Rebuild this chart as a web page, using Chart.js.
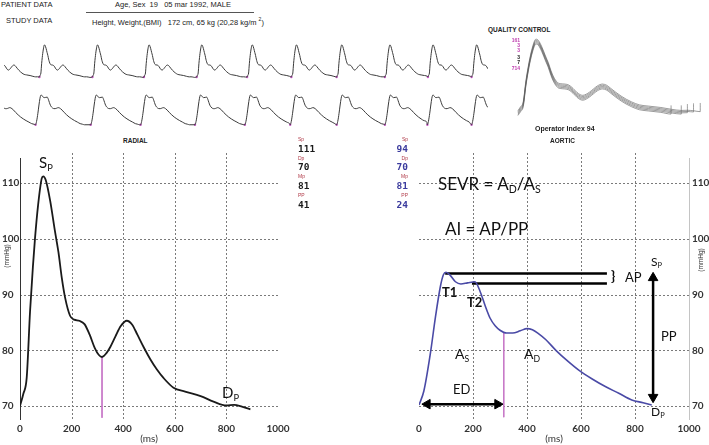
<!DOCTYPE html>
<html>
<head>
<meta charset="utf-8">
<script src="https://cdn.jsdelivr.net/npm/chart.js@4.4.1/dist/chart.umd.min.js"></script>
<style>
body { margin: 0; background: #fff; width: 709px; height: 445px; position: relative; overflow: hidden; }
canvas { position: absolute; }
.t { position: absolute; white-space: nowrap; line-height: 1; font-family: Lato, "Open Sans", sans-serif; color: #111; }
.s { font-size: 62%; position: relative; top: 0.3em; }
.h { position: absolute; white-space: nowrap; line-height: 1; font-family: "Liberation Sans", Arial, sans-serif; font-size: 7.5px; color: #222; }
.lab { position: absolute; white-space: nowrap; line-height: 1; font-family: "Liberation Sans", Arial, sans-serif; font-size: 6.5px; font-weight: bold; color: #222; }
.qc { position: absolute; width: 20px; text-align: right; font-family: "Liberation Sans", Arial, sans-serif; font-size: 5px; line-height: 1; font-weight: bold; }
.sm { position: absolute; font-family: "Liberation Sans", Arial, sans-serif; font-size: 5px; line-height: 1; color: #b03a48; }
.num { position: absolute; font-family: "DejaVu Sans Mono", monospace; font-weight: bold; font-size: 9.5px; line-height: 1; }
.rot { position: absolute; white-space: nowrap; font-family: "Liberation Sans", Arial, sans-serif; font-size: 6.5px; color: #333; transform: translate(-50%, -50%) rotate(-90deg); }
</style>
</head>
<body>
<canvas id="radialChart" width="300" height="296" style="left:0;top:149px"></canvas>
<canvas id="aorticChart" width="309" height="296" style="left:400px;top:149px"></canvas>
<canvas id="strip1" width="492" height="50" style="left:0;top:36px"></canvas>
<canvas id="strip2" width="492" height="48" style="left:0;top:86px"></canvas>
<canvas id="qcChart" width="195" height="90" style="left:512px;top:35px"></canvas>

<!-- header -->
<div class="h" style="left:1px;top:1px">PATIENT DATA</div>
<div class="h" style="left:115px;top:1px">Age, Sex&nbsp;&nbsp;19&nbsp;&nbsp;&nbsp;05 mar 1992, MALE</div>
<div style="position:absolute;left:86px;top:12px;width:168px;height:1px;background:#555"></div>
<div class="h" style="left:6px;top:17px">STUDY DATA</div>
<div class="h" style="left:92px;top:17px">Height, Weight,(BMI)&nbsp;&nbsp;&nbsp;172 cm, 65 kg (20,28 kg/m <sup style="font-size:5px">2</sup>)</div>

<div class="lab" style="left:488px;top:27px">QUALITY CONTROL</div>
<div class="qc" style="left:500px;top:38px;color:#c040b0">161</div>
<div class="qc" style="left:500px;top:43px;color:#c040b0">3</div>
<div class="qc" style="left:500px;top:48px;color:#c040b0">3</div>
<div class="qc" style="left:500px;top:55px;color:#222">3</div>
<div class="qc" style="left:500px;top:60px;color:#222">7</div>
<div class="qc" style="left:500px;top:66px;color:#c040b0">714</div>
<div class="lab" style="left:535px;top:125px;font-size:7px">Operator Index 94</div>
<div class="lab" style="left:550px;top:138px">AORTIC</div>
<div class="lab" style="left:123px;top:138px">RADIAL</div>

<!-- value columns -->
<div class="sm" style="left:298px;top:137px">Sp</div>
<div class="num" style="left:298px;top:144px;color:#1a1a1a">111</div>
<div class="sm" style="left:298px;top:156px">Dp</div>
<div class="num" style="left:298px;top:162px;color:#1a1a1a">70</div>
<div class="sm" style="left:298px;top:174px">Mp</div>
<div class="num" style="left:298px;top:181px;color:#1a1a1a">81</div>
<div class="sm" style="left:298px;top:193px">PP</div>
<div class="num" style="left:298px;top:200px;color:#1a1a1a">41</div>

<div class="sm" style="left:388px;top:137px;width:20px;text-align:right">Sp</div>
<div class="num" style="left:378px;top:144px;width:30px;text-align:right;color:#3b3b9e">94</div>
<div class="sm" style="left:388px;top:156px;width:20px;text-align:right">Dp</div>
<div class="num" style="left:378px;top:162px;width:30px;text-align:right;color:#3b3b9e">70</div>
<div class="sm" style="left:388px;top:174px;width:20px;text-align:right">Mp</div>
<div class="num" style="left:378px;top:181px;width:30px;text-align:right;color:#3b3b9e">81</div>
<div class="sm" style="left:388px;top:193px;width:20px;text-align:right">PP</div>
<div class="num" style="left:378px;top:200px;width:30px;text-align:right;color:#3b3b9e">24</div>

<!-- axis titles -->
<div class="rot" style="left:6px;top:256px">(mmHg)</div>
<div class="rot" style="left:700px;top:260px">(mmHg)</div>

<!-- annotations -->
<div class="t" style="left:39px;top:155px;font-size:15px">S<span class="s">P</span></div>
<div class="t" style="left:222px;top:385px;font-size:15px">D<span class="s">P</span></div>
<div class="t" style="left:438px;top:175px;font-size:17px">SEVR = A<span class="s">D</span>/A<span class="s">S</span></div>
<div class="t" style="left:445px;top:220px;font-size:17px">AI = AP/PP</div>
<div class="t" style="left:611px;top:269px;font-size:14px;font-weight:bold">}</div>
<div class="t" style="left:625px;top:271px;font-size:13px">AP</div>
<div class="t" style="left:651px;top:256px;font-size:12px">S<span class="s">P</span></div>
<div class="t" style="left:442px;top:286px;font-size:13px;font-weight:bold">T1</div>
<div class="t" style="left:467px;top:296px;font-size:13px;font-weight:bold">T2</div>
<div class="t" style="left:455px;top:347px;font-size:14px">A<span class="s">S</span></div>
<div class="t" style="left:524px;top:347px;font-size:14px">A<span class="s">D</span></div>
<div class="t" style="left:453px;top:383px;font-size:13px">ED</div>
<div class="t" style="left:661px;top:330px;font-size:13px">PP</div>
<div class="t" style="left:651px;top:406px;font-size:12px">D<span class="s">P</span></div>

<script>
// radial pulse (left panel): time in ms, pressure in mmHg
const radialT = [0, 13, 26, 39, 50, 58, 70, 84, 90, 100, 117, 135, 149, 162, 175, 194, 210, 230, 250, 270, 290, 305, 318, 335, 350, 370, 390, 414, 435, 455, 480, 505, 530, 557, 595, 640, 700, 750, 800, 830, 860, 893];
const radialP = [70, 72.2, 75.1, 87, 95, 100, 106, 110.8, 111.2, 110.5, 106.8, 101.5, 97.6, 93, 89.4, 86.2, 85.5, 85.3, 84.7, 82.8, 80.4, 79.2, 78.8, 79.5, 80.6, 82.5, 84.3, 85.3, 84.6, 82.8, 80.5, 78.4, 76.6, 75, 73.3, 72.6, 71.8, 70.8, 70.1, 70.2, 69.9, 69.4];

// derived aortic pulse (right panel)
const aorticT = [0, 18, 42, 61, 79, 90, 100, 115, 135, 155, 180, 207, 226, 245, 263, 282, 300, 324, 347, 375, 400, 420, 440, 470, 507, 550, 593, 640, 690, 740, 788, 830, 862];
const aorticP = [70.2, 72.7, 79.4, 86, 91.4, 93.5, 94.0, 93.5, 92.3, 91.9, 92.1, 92.3, 90.6, 88.0, 85.8, 84.4, 83.6, 83.1, 83.1, 83.5, 83.9, 83.7, 83.1, 81.9, 80, 78.1, 76.4, 74.9, 73.5, 72.3, 71.1, 70.6, 70.2];

const msTicks = [0, 200, 400, 600, 800, 1000];
const mmHgTicks = [70, 80, 90, 100, 110];

// markers: [ms, pressure at curve, pressure at bottom]
const radialNotch = [318, 78.8, 67.9];
const aorticNotch = [314, 83.1, 68.0];
const apStartT = [97, 196];
const apLevels = [93.8, 92.0];
const apEndT = 696;
const ppArrowT = 867;
const ppArrowP = [93.0, 71.6];
const edArrowT = [31, 291];
const edArrowP = 70.34;

// beat onsets in the recording strip (s)
const stripOnsetsRadial = [-0.24, 0.625, 1.56, 2.47, 3.40, 4.29, 5.07, 5.87, 6.72, 7.48, 8.25];
const stripOnsetsAortic = [-0.30, 0.556, 1.53, 2.41, 3.37, 4.25, 5.05, 5.87, 6.72, 7.47, 8.25];

// quality control overlay: pressure offset and end time of each beat
const qcShifts = [-1.4, -0.7, 0, 0.7, 1.4];
const qcEndT = [750, 800, 830, 860, 893];

Chart.defaults.font.family = 'Lato, "Open Sans", sans-serif';
Chart.defaults.animation = false;

function pts(ts, ps) {
    return ts.map((t, i) => ({x: t, y: ps[i]}));
}

function beatStrip(onsets, ts, ps) {
    const out = [];
    onsets.forEach((o, i) => {
        const next = i + 1 < onsets.length ? onsets[i + 1] : Infinity;
        ts.forEach((t, j) => {
            const x = o + t / 1000;
            if (x < next) out.push({x: x, y: ps[j]});
        });
    });
    return out;
}

function noPlugins() {
    return { legend: { display: false }, tooltip: { enabled: false } };
}

const gridGray = '#7a7a7a';

// dotted grid + axis line, placed with the chart's own scales
const dottedGrid = {
    id: 'dottedGrid',
    beforeDatasetsDraw(chart, args, opts) {
        const ctx = chart.ctx;
        const a = chart.chartArea;
        const x = chart.scales.x;
        const y = chart.scales.y;
        ctx.save();
        ctx.lineWidth = 1;
        ctx.strokeStyle = gridGray;
        ctx.setLineDash([2, 2]);
        msTicks.filter(v => v > x.min && v < x.max).forEach(v => {
            const px = Math.round(x.getPixelForValue(v)) + 0.5;
            ctx.beginPath();
            ctx.moveTo(px, a.top - 5);
            ctx.lineTo(px, a.bottom);
            ctx.stroke();
        });
        mmHgTicks.forEach(v => {
            const py = Math.round(y.getPixelForValue(v)) + 0.5;
            ctx.beginPath();
            ctx.moveTo(Math.round(a.left), py);
            ctx.lineTo(Math.round(a.right), py);
            ctx.stroke();
        });
        ctx.setLineDash([]);
        ctx.strokeStyle = opts.axisColor;
        const bx = Math.round(opts.axisSide === 'left' ? a.left : a.right) + 0.5;
        ctx.beginPath();
        ctx.moveTo(bx, a.top);
        ctx.lineTo(bx, a.bottom);
        ctx.stroke();
        ctx.restore();
    }
};

function xAxis() {
    return {
        type: 'linear',
        min: 0,
        max: 1000,
        afterBuildTicks: s => { s.ticks = msTicks.map(v => ({value: v})); },
        afterFit: s => { s.height = 25; },
        grid: { display: false, drawTicks: false },
        border: { display: false },
        ticks: { padding: 3, color: '#333', font: { size: 10, weight: 'bold' }, maxRotation: 0, callback: v => String(v) },
        title: { display: true, text: '(ms)', padding: 0, color: '#333', font: { size: 10 } }
    };
}

function yAxis(position, width) {
    return {
        position: position,
        min: 67.5,
        max: 114.5,
        afterBuildTicks: s => { s.ticks = mmHgTicks.map(v => ({value: v})); },
        afterFit: s => { s.width = width; },
        grid: { display: false, drawTicks: false },
        border: { display: false },
        ticks: {
            padding: 3,
            color: '#333',
            font: { size: 10, weight: 'bold' },
            callback: v => String(v),
            crossAlign: position === 'left' ? 'far' : 'near'
        }
    };
}

// Radial panel
new Chart(document.getElementById('radialChart'), {
    type: 'line',
    plugins: [dottedGrid],
    data: {
        datasets: [{
            data: pts(radialT, radialP),
            borderColor: '#1a1a1a',
            borderWidth: 1.8,
            pointRadius: 0,
            cubicInterpolationMode: 'monotone'
        }, {
            data: [{x: radialNotch[0], y: radialNotch[1]}, {x: radialNotch[0], y: radialNotch[2]}],
            borderColor: '#c879c8',
            borderWidth: 1,
            pointRadius: 0
        }]
    },
    options: {
        responsive: false,
        layout: { padding: { left: 2, top: 6, right: 22, bottom: 0 } },
        plugins: Object.assign(noPlugins(), { dottedGrid: { axisColor: '#333', axisSide: 'left' } }),
        scales: { x: xAxis(), y: yAxis('left', 18) }
    }
});

// Aortic panel with SEVR / AI construction
function arrowSet(data, rotation) {
    return {
        data: data,
        borderColor: '#000',
        borderWidth: 2.5,
        pointStyle: 'triangle',
        pointRadius: 5.5,
        pointBackgroundColor: '#000',
        pointBorderColor: '#000',
        pointBorderWidth: 1,
        pointRotation: rotation
    };
}

new Chart(document.getElementById('aorticChart'), {
    type: 'line',
    plugins: [dottedGrid],
    data: {
        datasets: [{
            data: pts(aorticT, aorticP),
            borderColor: '#4a4aa6',
            borderWidth: 1.6,
            pointRadius: 0,
            cubicInterpolationMode: 'monotone'
        }, {
            data: [{x: aorticNotch[0], y: aorticNotch[1]}, {x: aorticNotch[0], y: aorticNotch[2]}],
            borderColor: '#c879c8',
            borderWidth: 1,
            pointRadius: 0
        }, ...apLevels.map((lvl, i) => ({
            data: [{x: apStartT[i], y: lvl}, {x: apEndT, y: lvl}],
            borderColor: '#000',
            borderWidth: 2.5,
            pointRadius: 0
        })),
        arrowSet(ppArrowP.map(p => ({x: ppArrowT, y: p})), c => c.dataIndex === 0 ? 0 : 180),
        arrowSet(edArrowT.map(t => ({x: t, y: edArrowP})), c => c.dataIndex === 0 ? 270 : 90)]
    },
    options: {
        responsive: false,
        layout: { padding: { left: 19, top: 6, right: 0, bottom: 0 } },
        plugins: Object.assign(noPlugins(), { dottedGrid: { axisColor: '#c4c4c4', axisSide: 'right' } }),
        scales: { x: xAxis(), y: yAxis('right', 20) }
    }
});

// Recording strips
function stripChart(id, onsets, ts, ps, yMin, yMax) {
    new Chart(document.getElementById(id), {
        type: 'line',
        data: {
            datasets: [{
                data: beatStrip(onsets, ts, ps),
                borderColor: '#3a3a3a',
                borderWidth: 1,
                pointRadius: 0,
                cubicInterpolationMode: 'monotone'
            }, {
                data: onsets.map(o => ({x: o, y: ps[0]})),
                showLine: false,
                pointRadius: 1.2,
                pointBackgroundColor: '#c85ac8',
                pointBorderWidth: 0
            }]
        },
        options: {
            responsive: false,
            layout: { padding: 0 },
            plugins: noPlugins(),
            scales: {
                x: { type: 'linear', min: 0, max: 8.54, display: false },
                y: { min: yMin, max: yMax, display: false }
            }
        }
    });
}

stripChart('strip1', stripOnsetsRadial, radialT, radialP, 63.5, 117.5);
stripChart('strip2', stripOnsetsAortic, aorticT, aorticP, 66, 98);

// Quality control overlay
new Chart(document.getElementById('qcChart'), {
    type: 'line',
    data: {
        datasets: qcShifts.map((d, k) => {
            const beat = [];
            radialT.forEach((t, j) => {
                if (t <= qcEndT[k]) beat.push({x: t, y: radialP[j] + d});
            });
            const last = beat[beat.length - 1];
            beat.push({x: last.x, y: last.y + 5});
            return {
                data: beat,
                borderColor: 'rgba(90,90,90,0.6)',
                borderWidth: 1,
                pointRadius: 0,
                cubicInterpolationMode: 'monotone'
            };
        })
    },
    options: {
        responsive: false,
        layout: { padding: 0 },
        plugins: noPlugins(),
        scales: {
            x: { type: 'linear', min: -29, max: 926, display: false },
            y: { min: 63.1, max: 115, display: false }
        }
    }
});
</script>
</body>
</html>
